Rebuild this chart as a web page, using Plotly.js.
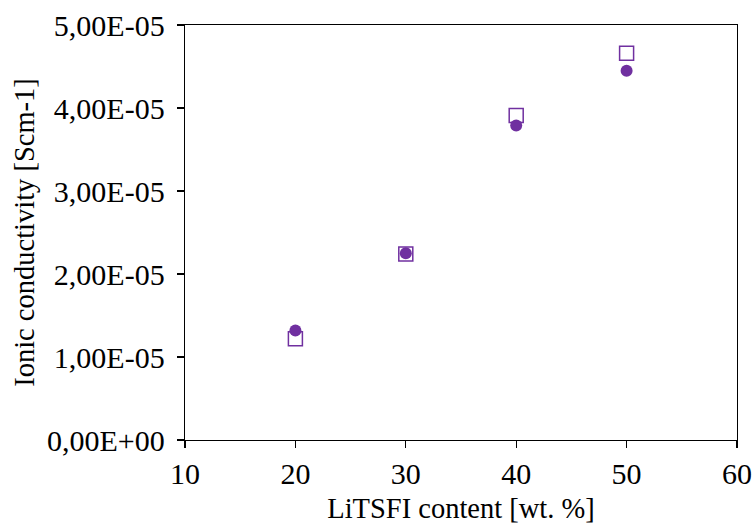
<!DOCTYPE html>
<html>
<head>
<meta charset="utf-8">
<script src="https://cdn.plot.ly/plotly-3.0.1.min.js"></script>
<style>html,body{margin:0;padding:0;background:#fff;}#chart{width:754px;height:525px;}</style>
</head>
<body>
<div id="chart"></div>
<script>
const content = [20, 30, 40, 50];
const conductivitySquares = [1.22e-5, 2.24e-5, 3.91e-5, 4.66e-5];
const conductivityCircles = [1.32e-5, 2.25e-5, 3.79e-5, 4.45e-5];
const xTickVals = [10, 20, 30, 40, 50, 60];
const xTickText = ["10", "20", "30", "40", "50", "60"];
const yTickVals = [0, 1e-5, 2e-5, 3e-5, 4e-5, 5e-5];
const yTickText = ["0,00E+00", "1,00E-05", "2,00E-05", "3,00E-05", "4,00E-05", "5,00E-05"];

const purple = "#7030A0";
const font = {family: "'Liberation Serif', 'Times New Roman', serif", size: 28.5, color: "#000"};
const tickFont = {family: "'Liberation Serif', 'Times New Roman', serif", size: 30, color: "#000"};

const traces = [
  {x: content, y: conductivitySquares, type: "scatter", mode: "markers",
   marker: {symbol: "square-open", size: 14, color: purple, line: {color: purple, width: 1.5}},
   showlegend: false, cliponaxis: false},
  {x: content, y: conductivityCircles, type: "scatter", mode: "markers",
   marker: {symbol: "circle", size: 12, color: purple, line: {width: 0}},
   showlegend: false, cliponaxis: false}
];

const layout = {
  width: 754, height: 525,
  margin: {l: 185, r: 17, t: 24.5, b: 84.5},
  paper_bgcolor: "#fff", plot_bgcolor: "#fff",
  font: font,
  xaxis: {
    range: [10, 60], tickvals: xTickVals, ticktext: xTickText,
    showgrid: false, zeroline: false,
    showline: true, mirror: true, linecolor: "#000", linewidth: 1.3,
    ticks: "outside", ticklen: 7, tickcolor: "#000", tickwidth: 1.3,
    tickfont: tickFont,
    title: {text: "LiTSFI content [wt. %]", font: font, standoff: 8}
  },
  yaxis: {
    range: [0, 5e-5], tickvals: yTickVals, ticktext: yTickText,
    showgrid: false, zeroline: false,
    showline: true, mirror: true, linecolor: "#000", linewidth: 1.3,
    ticks: "outside", ticklen: 7, tickcolor: "#000", tickwidth: 1.3,
    tickfont: tickFont,
    ticklabelstandoff: 6,
    title: {text: "Ionic conductivity [Scm-1]", font: font, standoff: 4}
  }
};

Plotly.newPlot("chart", traces, layout, {displayModeBar: false, staticPlot: true});
</script>
</body>
</html>
